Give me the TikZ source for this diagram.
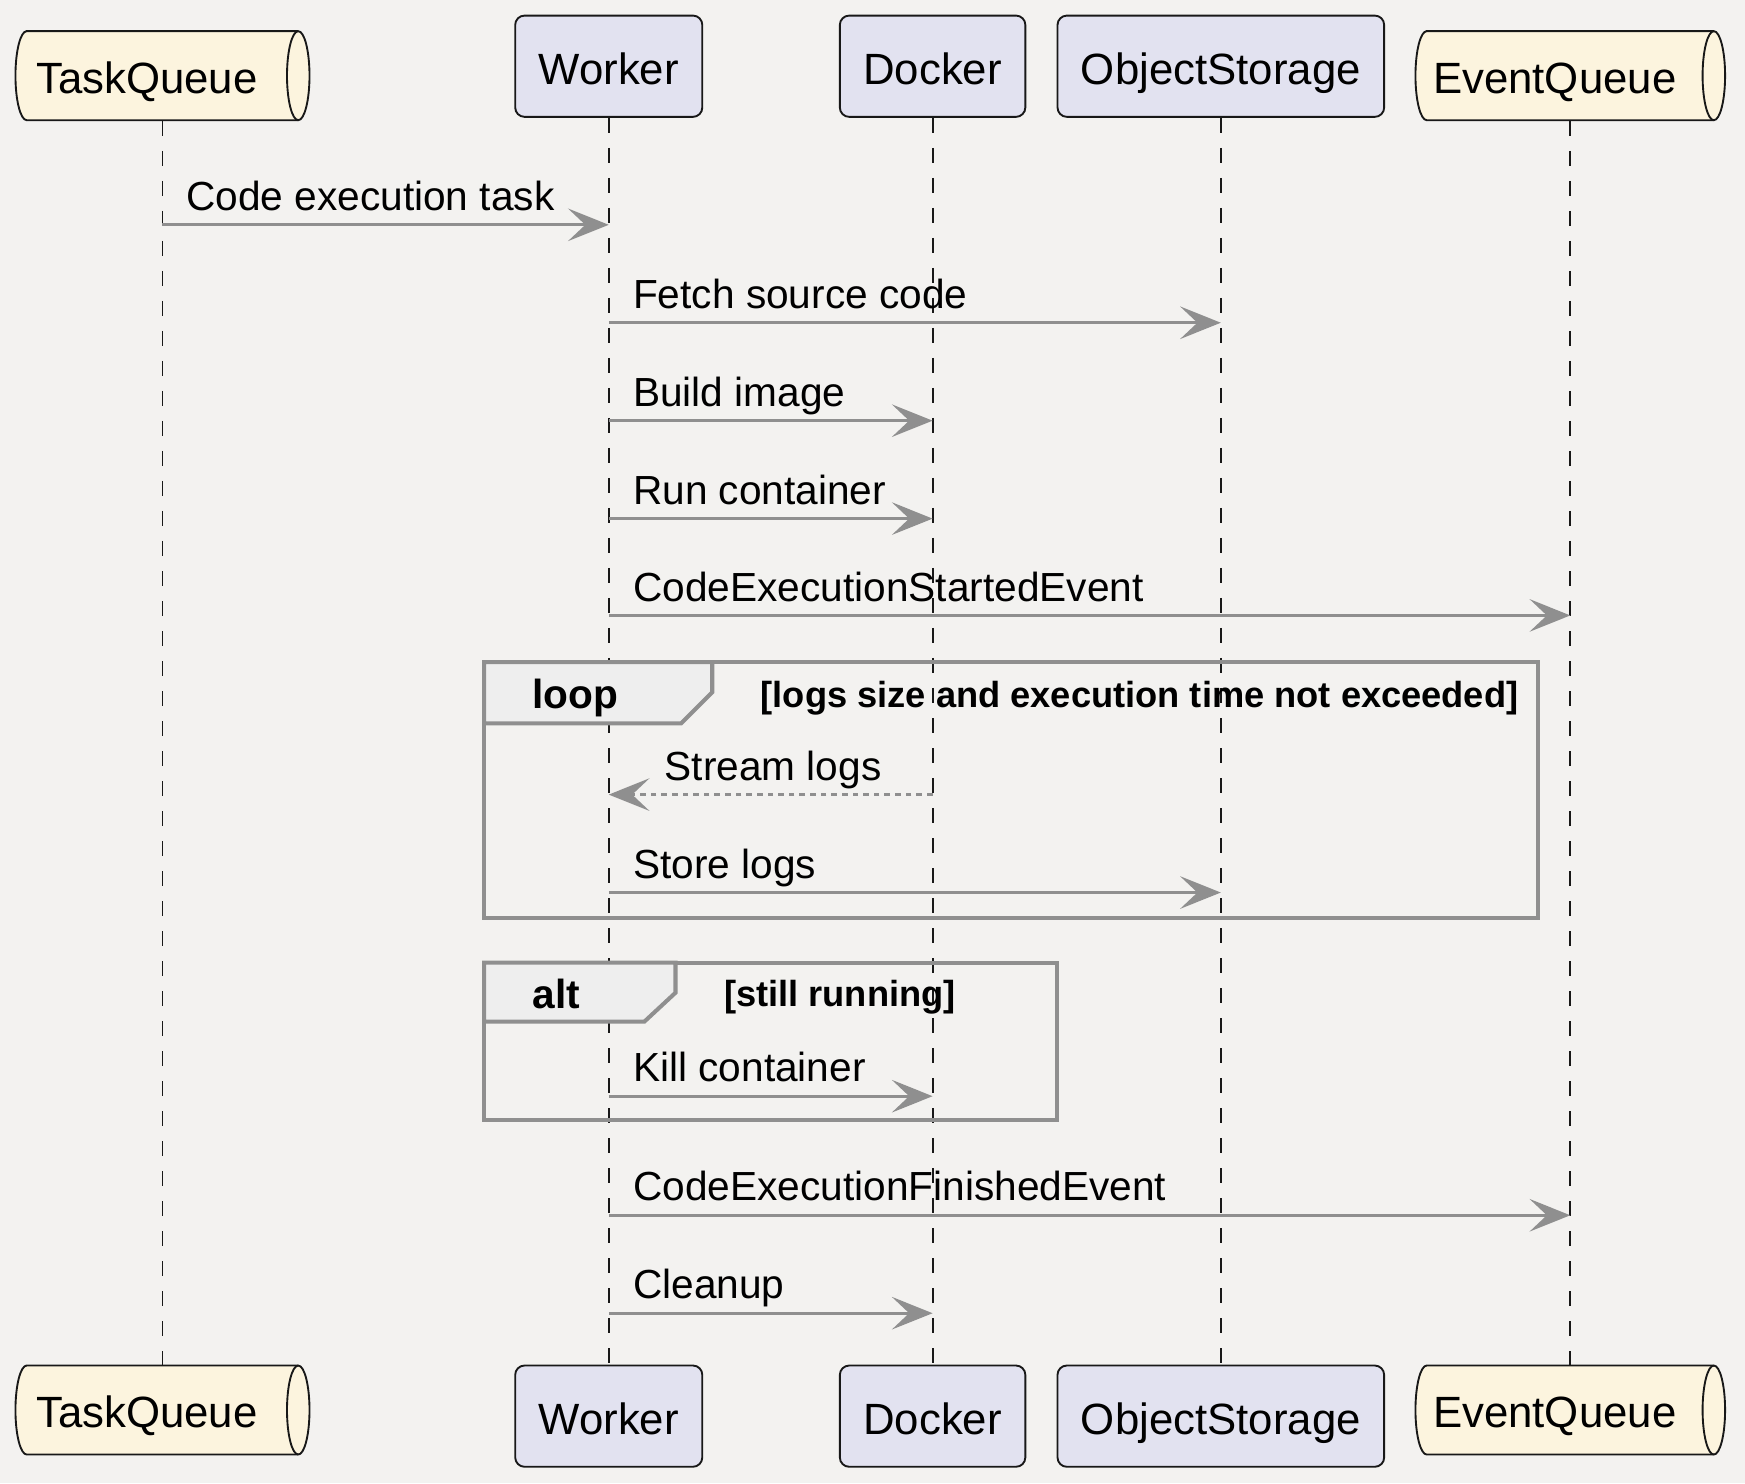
\documentclass[tikz,border=0pt]{standalone}
\usepackage{fontspec}
\setmainfont{Liberation Sans}
\usetikzlibrary{arrows.meta}
\definecolor{bgc}{HTML}{F3F2F0}
\definecolor{headline}{HTML}{181818}
\definecolor{partfill}{HTML}{E2E2F0}
\definecolor{queuefill}{HTML}{FCF4DE}
\definecolor{arrowgray}{HTML}{8F8F8F}
\definecolor{tabfill}{HTML}{EEEEEE}
\tikzset{
  partbox/.style={draw=headline, fill=partfill, line width=0.6pt, rounded corners=3pt,
    font=\fontsize{14}{16}\selectfont, inner xsep=7.5pt, inner ysep=0pt,
    minimum height=32.4pt, text height=12.5pt, text depth=0.75pt},
  qhead/.style={minimum width=#1, minimum height=28.5pt, inner sep=0pt},
  qbody/.style={draw=headline, fill=queuefill, line width=0.6pt},
  qtext/.style={font=\fontsize{14}{16}\selectfont, anchor=base, inner sep=0pt},
  lifeline/.style={draw=headline, line width=0.6pt, dash pattern=on 4.8pt off 4.8pt},
  msgarrow/.style={draw=arrowgray, line width=1pt,
    -{Stealth[length=13pt, width=10.4pt, inset=5.5pt]}},
  msgtext/.style={font=\fontsize{13}{15}\selectfont, anchor=base west, inner sep=0pt,
    yshift=4.6pt},
  frame/.style={draw=arrowgray, line width=1.3pt},
  frametag/.style={font=\fontsize{13}{15}\selectfont\bfseries, anchor=base west, inner sep=0pt},
  framecond/.style={font=\fontsize{11.6}{13}\selectfont\bfseries, anchor=base west, inner sep=0pt}
}
\begin{document}
\begin{tikzpicture}[x=0.356pt, y=-0.356pt]
    \fill[bgc] (0,0) rectangle (1568,1333);
    \useasboundingbox (0,0) rectangle (1568,1333);

    \foreach \qx/\qw/\qy in {146/132/68, 146/132/1267, 1411/139/68, 1411/139/1267} {
      \draw[qbody] (\qx-\qw+10,\qy-40) -- (\qx+\qw-10,\qy-40)
        arc[start angle=90, end angle=-90, x radius=3.6pt, y radius=14.24pt]
        -- (\qx-\qw+10,\qy+40)
        arc[start angle=270, end angle=90, x radius=3.6pt, y radius=14.24pt] -- cycle;
      \draw[qbody, fill=none] (\qx+\qw-10,\qy-40)
        arc[start angle=90, end angle=270, x radius=3.6pt, y radius=14.24pt];
    }

    \node[qhead=94pt] (tqT) at (146,68) {};
    \node[qhead=94pt] (tqB) at (146,1267) {};
    \node[qhead=99pt] (eqT) at (1411,68) {};
    \node[qhead=99pt] (eqB) at (1411,1267) {};
    \node[qtext] (tqTl) at (132,84) {TaskQueue};
    \node[qtext] (tqBl) at (132,1283) {TaskQueue};
    \node[qtext] (eqTl) at (1397,84) {EventQueue};
    \node[qtext] (eqBl) at (1397,1283) {EventQueue};

    \node[partbox] (wkT) at (547,59.5) {Worker};
    \node[partbox] (dkT) at (838,59.5) {Docker};
    \node[partbox] (osT) at (1097,59.5) {ObjectStorage};
    \node[partbox] (wkB) at (547,1272.5) {Worker};
    \node[partbox] (dkB) at (838,1272.5) {Docker};
    \node[partbox] (osB) at (1097,1272.5) {ObjectStorage};

    \draw[lifeline] (tqT) -- (tqB);
    \draw[lifeline] (wkT) -- (wkB);
    \draw[lifeline] (dkT) -- (dkB);
    \draw[lifeline] (osT) -- (osB);
    \draw[lifeline] (eqT) -- (eqB);

    \draw[frame] (435,595) rectangle (1382,825);
    \draw[frame, fill=tabfill] (435,595) -- (640,595) -- (640,622) -- (612,650) -- (435,650) -- cycle;
    \node[frametag] (loopt) at (478,637) {loop};
    \node[framecond] (loopc) at (683,636) {[logs size and execution time not exceeded]};

    \draw[frame] (435,865) rectangle (950,1006);
    \draw[frame, fill=tabfill] (435,865) -- (607,865) -- (607,892) -- (579,918) -- (435,918) -- cycle;
    \node[frametag] (altt) at (478,906) {alt};
    \node[framecond] (altc) at (650,904) {[still running]};

    \coordinate (r1) at (0,202);
    \coordinate (r2) at (0,290);
    \coordinate (r3) at (0,378);
    \coordinate (r4) at (0,466);
    \coordinate (r5) at (0,553);
    \coordinate (r6) at (0,714);
    \coordinate (r7) at (0,802);
    \coordinate (r8) at (0,985);
    \coordinate (r9) at (0,1092);
    \coordinate (r10) at (0,1180);

    \draw[msgarrow] (tqT |- r1) -- node[msgtext, pos=0, xshift=7.1pt] (m1) {Code execution task} (wkT |- r1);
    \draw[msgarrow] (wkT |- r2) -- node[msgtext, pos=0, xshift=7.3pt] (m2) {Fetch source code} (osT |- r2);
    \draw[msgarrow] (wkT |- r3) -- node[msgtext, pos=0, xshift=7.3pt] (m3) {Build image} (dkT |- r3);
    \draw[msgarrow] (wkT |- r4) -- node[msgtext, pos=0, xshift=7.3pt] (m4) {Run container} (dkT |- r4);
    \draw[msgarrow] (wkT |- r5) -- node[msgtext, pos=0, xshift=7.3pt] (m5) {CodeExecutionStartedEvent} (eqT |- r5);
    \draw[msgarrow, dash pattern=on 1.8pt off 1.6pt] (dkT |- r6) -- node[msgtext, pos=1, xshift=17.4pt] (m6) {Stream logs} (wkT |- r6);
    \draw[msgarrow] (wkT |- r7) -- node[msgtext, pos=0, xshift=7.3pt] (m7) {Store logs} (osT |- r7);
    \draw[msgarrow] (wkT |- r8) -- node[msgtext, pos=0, xshift=7.3pt] (m8) {Kill container} (dkT |- r8);
    \draw[msgarrow] (wkT |- r9) -- node[msgtext, pos=0, xshift=7.3pt] (m9) {CodeExecutionFinishedEvent} (eqT |- r9);
    \draw[msgarrow] (wkT |- r10) -- node[msgtext, pos=0, xshift=7.3pt] (m10) {Cleanup} (dkT |- r10);
\end{tikzpicture}
\end{document}
